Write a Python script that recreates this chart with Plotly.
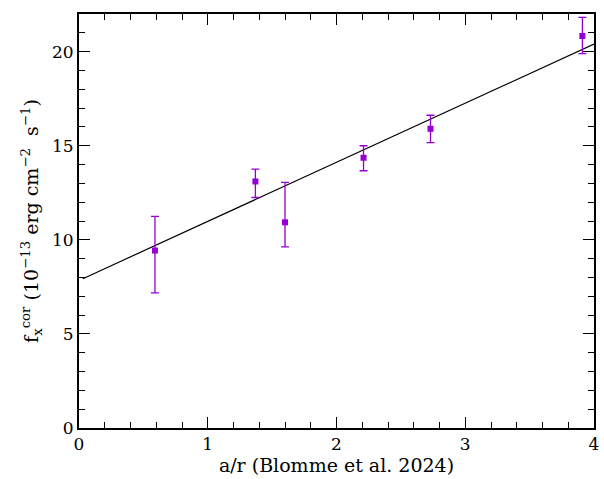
import plotly.graph_objects as go

# data
ar = [0.59, 1.37, 1.60, 2.21, 2.73, 3.91]
fx = [9.43, 13.10, 10.93, 14.36, 15.90, 20.83]
err_plus = [1.82, 0.66, 2.12, 0.64, 0.72, 0.99]
err_minus = [2.25, 0.85, 1.31, 0.69, 0.73, 0.94]

fit_x = [0.03, 4.0]
fit_intercept = 7.84
fit_slope = 3.14
fit_y = [fit_intercept + fit_slope * x for x in fit_x]

purple = "#9400D3"
font_family = "DejaVu Serif"

fig = go.Figure()
fig.add_trace(go.Scatter(
    x=fit_x, y=fit_y, mode="lines",
    line=dict(color="black", width=1.2), showlegend=False, cliponaxis=True,
))
fig.add_trace(go.Scatter(
    x=ar, y=fx, mode="markers",
    marker=dict(symbol="square", size=6, color=purple),
    error_y=dict(type="data", symmetric=False, array=err_plus, arrayminus=err_minus,
                 color=purple, thickness=1.3, width=4),
    showlegend=False,
))

axis_common = dict(
    showgrid=False, zeroline=False, showline=True, linecolor="black", linewidth=2,
    mirror="allticks", ticks="inside", tickcolor="black", tickwidth=1,
    tickfont=dict(family=font_family, size=17, color="black"),
    automargin=False,
)
fig.update_xaxes(
    range=[0, 4], dtick=1, tick0=0, ticklen=11,
    minor=dict(ticks="inside", dtick=0.2, ticklen=6, tickcolor="black", tickwidth=1),
    title=dict(text="a/r (Blomme et al. 2024)", font=dict(family=font_family, size=19, color="black"), standoff=4),
    **axis_common,
)
fig.update_yaxes(
    range=[0, 22], dtick=5, tick0=0, ticklen=11,
    minor=dict(ticks="inside", dtick=1, ticklen=6, tickcolor="black", tickwidth=1),
    title=dict(text="f<sub>x</sub><sup>cor</sup>&nbsp;(10<sup>−13</sup>&nbsp;erg&nbsp;cm<sup>−2</sup>&nbsp;&nbsp;s<sup>−1</sup>)",
               font=dict(family=font_family, size=19, color="black"), standoff=8),
    **axis_common,
)
fig.update_layout(
    width=604, height=479,
    margin=dict(l=79, r=10, t=14, b=51),
    plot_bgcolor="white", paper_bgcolor="white",
    font=dict(family=font_family, color="black"),
)
fig.write_html("out.html")
